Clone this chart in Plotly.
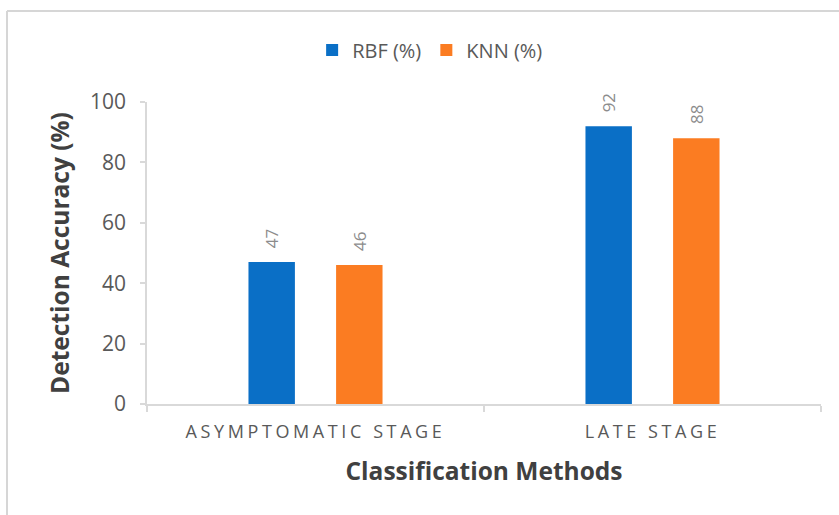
import plotly.graph_objects as go

# Detection accuracy by disease stage for two classifiers
stages = ["ASYMPTOMATIC STAGE", "LATE STAGE"]
rbf_acc = [47, 92]
knn_acc = [46, 88]
series_names = ["RBF (%)", "KNN (%)"]
y_ticks = [0, 20, 40, 60, 80, 100]

BLUE = "#0A6FC6"
ORANGE = "#FB7C22"
AXIS = "#D9D9D9"
TXT = "#595959"
FONT = "Open Sans"
BARGAP = 0.48
BARGROUPGAP = 0.47

fig = go.Figure()
for name, vals, col in [(series_names[0], rbf_acc, BLUE), (series_names[1], knn_acc, ORANGE)]:
    fig.add_trace(go.Bar(
        name=name, x=stages, y=vals, marker=dict(color=col, line=dict(width=0)),
    ))

# value labels above each bar, rotated; positions follow the grouped-bar layout
slot = (1 - BARGAP) / 2
for k, vals in enumerate([rbf_acc, knn_acc]):
    shift = (k - 0.5) * slot
    for i, v in enumerate(vals):
        fig.add_annotation(
            x=i + shift, y=v, xref="x", yref="y", text=str(v), showarrow=False,
            textangle=-90, yanchor="bottom", xanchor="center", yshift=12,
            font=dict(family=FONT, size=17, color="#8C8C8C"),
        )

fig.update_layout(
    width=839, height=515,
    margin=dict(l=147, r=18, t=102, b=111),
    paper_bgcolor="white", plot_bgcolor="white",
    barmode="group", bargap=BARGAP, bargroupgap=BARGROUPGAP,
    font=dict(family=FONT, color=TXT),
    showlegend=True,
    legend=dict(
        orientation="h", x=0.245, xanchor="left", y=1.172, yanchor="middle",
        font=dict(family=FONT, size=20, color=TXT),
        itemwidth=30, traceorder="normal",
    ),
    xaxis=dict(
        showline=True, linecolor=AXIS, linewidth=1.5,
        ticks="outside", tickson="boundaries", ticklen=6, tickcolor=AXIS, tickwidth=1.5,
        tickfont=dict(family=FONT, size=18, color=TXT),
        ticklabelstandoff=11,
        showgrid=False,
        title=dict(text="<b>Classification Methods</b>", standoff=21,
                   font=dict(family=FONT, size=24.5, color="#404040")),
    ),
    yaxis=dict(
        range=[0, 100], tickvals=y_ticks,
        showline=True, linecolor=AXIS, linewidth=1.5,
        ticks="outside", ticklen=5, tickcolor=AXIS, tickwidth=1.5,
        tickfont=dict(family=FONT, size=21, color=TXT),
        showgrid=False, zeroline=False, ticklabelstandoff=10,
        title=dict(text="<b>Detection Accuracy (%)</b>", standoff=13,
                   font=dict(family=FONT, size=24.5, color="#404040")),
    ),
)

# light outer frame (top and left edges)
x0 = (7 - 147) / 674
x1 = (839 - 147) / 674
y_top = (404 - 11) / 302
y_bot = (404 - 515) / 302
fig.add_shape(type="line", xref="paper", yref="paper", x0=x0, x1=x1, y0=y_top, y1=y_top,
              line=dict(color="#D6D6D6", width=2), layer="below")
fig.add_shape(type="line", xref="paper", yref="paper", x0=x0, x1=x0, y0=y_top, y1=y_bot,
              line=dict(color="#D6D6D6", width=2), layer="below")

fig.write_html(
    "out.html",
    config={"displayModeBar": False},
    post_script="document.querySelectorAll('.xtick text').forEach(function(t){t.style.letterSpacing='3.6px';});",
)
